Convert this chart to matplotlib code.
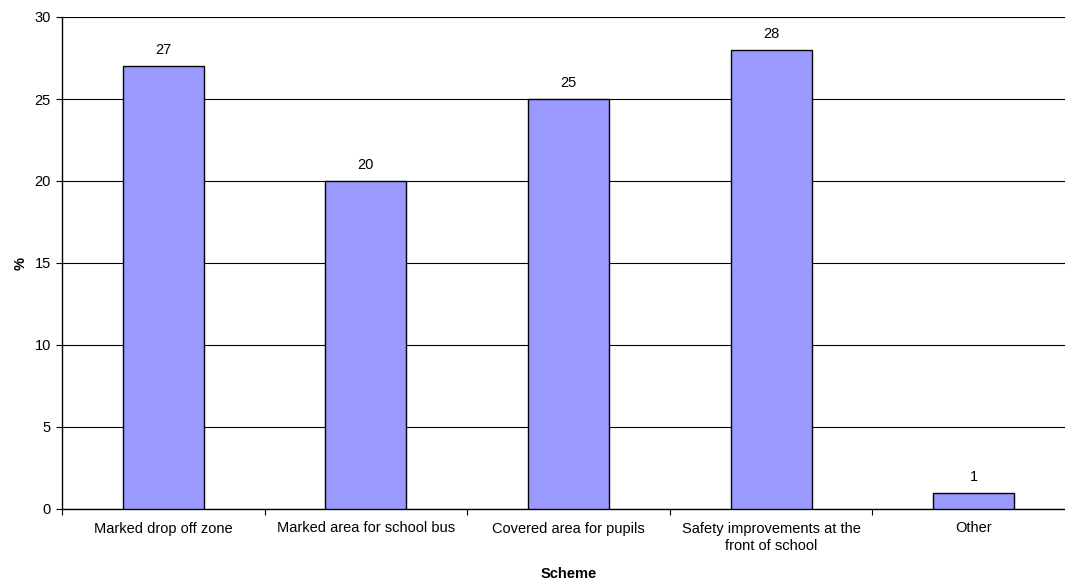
import matplotlib
matplotlib.use("Agg")
import matplotlib.pyplot as plt
import numpy as np

schemes = [
    "Marked drop off zone",
    "Marked area for school bus",
    "Covered area for pupils",
    "Safety improvements at the\nfront of school",
    "Other",
]
percent = [27, 20, 25, 28, 1]

plt.rcParams["font.family"] = ["Liberation Sans", "DejaVu Sans"]
FS = 10.5

fig = plt.figure(figsize=(10.65, 5.81), dpi=100)
# right edge of the plot area runs slightly past the image, as in the original
ax = fig.add_axes([62 / 1065, 1 - 509 / 581, 1013 / 1065, 492 / 581])

x = np.arange(len(schemes))
bars = ax.bar(x, percent, width=0.4, color="#9999FF", edgecolor="black", linewidth=1, zorder=3)
for b, v in zip(bars, percent):
    ax.text(b.get_x() + b.get_width() / 2, v + 0.55, str(v), ha="center", va="bottom", fontsize=FS)

ax.set_xlim(-0.5, len(schemes) - 0.5)
ax.set_ylim(0, 30)
ax.set_yticks(range(0, 31, 5))
ax.yaxis.grid(True, color="black", linewidth=0.8, zorder=0)
ax.set_axisbelow(True)

# category labels centred, ticks at boundaries
ax.set_xticks(x)
ax.set_xticklabels(schemes, fontsize=FS, linespacing=1.3)
ax.set_xticks(np.arange(-0.5, len(schemes)), minor=True)
ax.tick_params(axis="x", which="major", length=0, pad=9)
ax.tick_params(axis="x", which="minor", length=4, width=0.8, color="black")
ax.tick_params(axis="y", length=4, width=0.8, labelsize=FS, pad=4)

for side in ["top", "right"]:
    ax.spines[side].set_visible(False)
ax.spines["left"].set_linewidth(1)
ax.spines["bottom"].set_linewidth(1)

ax.set_xlabel("Scheme", fontsize=FS, fontweight="bold", labelpad=10)
ax.set_ylabel("%", fontsize=FS, fontweight="bold", labelpad=5)

fig.savefig("out.png", dpi=100)
